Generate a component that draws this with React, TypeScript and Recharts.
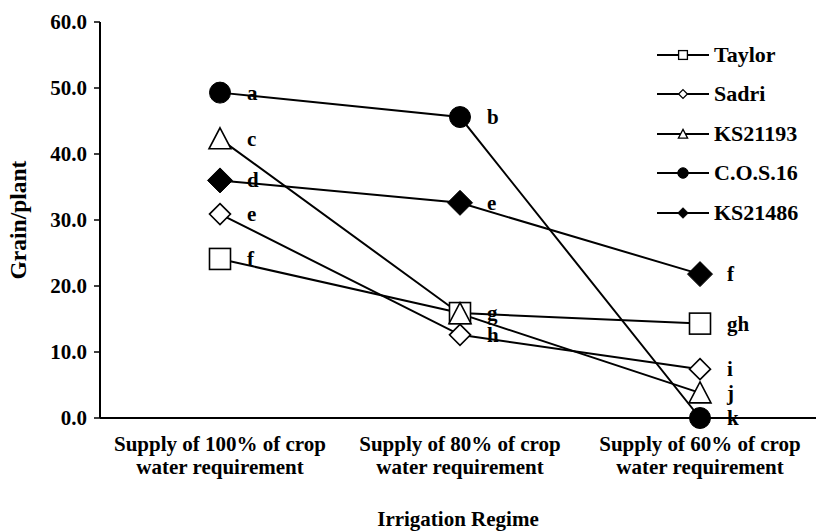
import React from 'react';
import { LineChart, Line, XAxis, YAxis, LabelList } from 'recharts';

const regimes = ['100%', '80%', '60%'];
const tickLines = [
  ['Supply of 100% of crop', 'water requirement'],
  ['Supply of 80% of crop', 'water requirement'],
  ['Supply of 60% of crop', 'water requirement'],
];
const yTicks = [0, 10, 20, 30, 40, 50, 60];

const taylor = [24.1, 15.9, 14.3];
const sadri = [30.9, 12.6, 7.4];
const ks21193 = [42.3, 15.8, 3.8];
const cos16 = [49.3, 45.6, 0.0];
const ks21486 = [36.0, 32.6, 21.8];

const taylorLetters = ['f', 'g', 'gh'];
const sadriLetters = ['e', 'h', 'i'];
const ks21193Letters = ['c', '', 'j'];
const cos16Letters = ['a', 'b', 'k'];
const ks21486Letters = ['d', 'e', 'f'];

const series = [
  { key: 'taylor', name: 'Taylor', shape: 'square', values: taylor, letters: taylorLetters },
  { key: 'sadri', name: 'Sadri', shape: 'diamond', values: sadri, letters: sadriLetters },
  { key: 'ks21193', name: 'KS21193', shape: 'triangle', values: ks21193, letters: ks21193Letters },
  { key: 'cos16', name: 'C.O.S.16', shape: 'circle', values: cos16, letters: cos16Letters },
  { key: 'ks21486', name: 'KS21486', shape: 'filledDiamond', values: ks21486, letters: ks21486Letters },
];

const data = regimes.map((r, i) => {
  const row: any = { regime: r };
  series.forEach((s) => {
    row[s.key] = s.values[i];
    row[s.key + 'Letter'] = s.letters[i];
  });
  return row;
});

const FONT = 'Liberation Serif, DejaVu Serif, serif';
const bold = (size: number) => ({ fontFamily: FONT, fontWeight: 'bold' as const, fontSize: size, fill: '#000' });

function Marker({ cx, cy, shape, small }: { cx: number; cy: number; shape: string; small?: boolean }) {
  const k = small ? 0.42 : 1;
  const sw = small ? 1.3 : 1.6;
  if (shape === 'square') {
    const h = 10.5 * k;
    return <rect x={cx - h} y={cy - h} width={h * 2} height={h * 2} fill="#fff" stroke="#000" strokeWidth={sw} />;
  }
  if (shape === 'diamond') {
    const h = 10.5 * k;
    return (
      <polygon
        points={`${cx},${cy - h} ${cx + h},${cy} ${cx},${cy + h} ${cx - h},${cy}`}
        fill="#fff"
        stroke="#000"
        strokeWidth={sw}
      />
    );
  }
  if (shape === 'triangle') {
    const w = 11 * k;
    return (
      <polygon
        points={`${cx},${cy - 11 * k} ${cx + w},${cy + 10 * k} ${cx - w},${cy + 10 * k}`}
        fill="#fff"
        stroke="#000"
        strokeWidth={sw}
      />
    );
  }
  if (shape === 'circle') {
    return <circle cx={cx} cy={cy} r={10.5 * (small ? 0.5 : 1)} fill="#000" stroke="#000" />;
  }
  const h = 12.5 * k;
  return <polygon points={`${cx},${cy - h} ${cx + h},${cy} ${cx},${cy + h} ${cx - h},${cy}`} fill="#000" stroke="#000" />;
}

const XTick = (props: any) => {
  const { x, y, index } = props;
  const lines = tickLines[index] || [];
  return (
    <text x={x} y={y} textAnchor="middle" style={bold(21)}>
      <tspan x={x} dy={25}>{lines[0]}</tspan>
      <tspan x={x} dy={23}>{lines[1]}</tspan>
    </text>
  );
};

const LegendBox = () => (
  <div
    style={{
      position: 'absolute',
      top: 35,
      left: 655,
      fontFamily: FONT,
      fontWeight: 'bold',
      fontSize: 22,
      color: '#000',
    }}
  >
    {series.map((s) => (
      <div key={s.key} style={{ display: 'flex', alignItems: 'center', height: 39.5 }}>
        <svg width={57} height={20}>
          <line x1={2} y1={10} x2={54} y2={10} stroke="#000" strokeWidth={2} />
          <Marker cx={28} cy={10} shape={s.shape} small />
        </svg>
        <span style={{ marginLeft: 2 }}>{s.name}</span>
      </div>
    ))}
  </div>
);

export default function App() {
  return (
    <div style={{ position: 'absolute', left: 0, top: 0, width: 816, height: 532, background: '#fff' }}>
      <LineChart width={816} height={532} data={data} margin={{ top: 22, right: 0, left: 0, bottom: 0 }}>
        <XAxis
          dataKey="regime"
          height={114}
          padding={{ left: 120, right: 116 }}
          tickLine={false}
          axisLine={{ stroke: '#000', strokeWidth: 2 }}
          tick={<XTick />}
          interval={0}
          label={{
            value: 'Irrigation Regime',
            position: 'insideBottom',
            offset: 6,
            style: bold(21),
          }}
        />
        <YAxis
          width={100}
          domain={[0, 60]}
          ticks={yTicks}
          tickFormatter={(v: number) => v.toFixed(1)}
          tickSize={6}
          tickMargin={7}
          axisLine={{ stroke: '#000', strokeWidth: 2 }}
          tickLine={{ stroke: '#000', strokeWidth: 1.5 }}
          tick={bold(21)}
          label={{
            value: 'Grain/plant',
            angle: -90,
            position: 'insideLeft',
            offset: 18,
            style: { ...bold(23.5), textAnchor: 'middle' },
          }}
        />
        {series.map((s) => (
          <Line
            key={s.key}
            dataKey={s.key}
            name={s.name}
            stroke="#000"
            strokeWidth={2}
            isAnimationActive={false}
            dot={(p: any) => <Marker key={`${s.key}-${p.index}`} cx={p.cx} cy={p.cy} shape={s.shape} />}
            activeDot={false}
          >
            <LabelList
              dataKey={s.key + 'Letter'}
              content={(p: any) => (
                <text x={p.x + 27} y={p.y + 7} style={bold(21)}>
                  {p.value}
                </text>
              )}
            />
          </Line>
        ))}
      </LineChart>
      <LegendBox />
    </div>
  );
}
